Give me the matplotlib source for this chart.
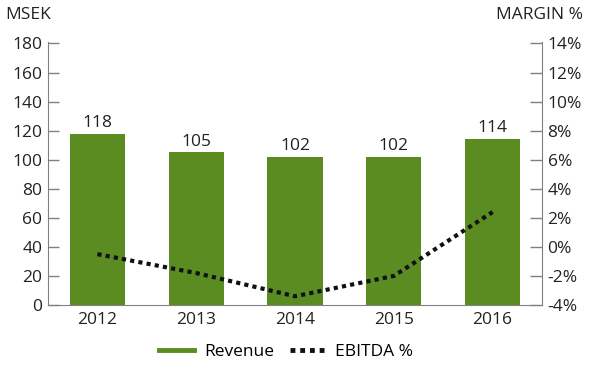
import matplotlib
matplotlib.use("Agg")
import matplotlib.pyplot as plt
from matplotlib.lines import Line2D

years = ["2012", "2013", "2014", "2015", "2016"]
revenue = [118, 105, 102, 102, 114]
ebitda_pct = [-0.5, -1.8, -3.4, -2.0, 2.4]
left_ticks = [0, 20, 40, 60, 80, 100, 120, 140, 160, 180]
right_ticks = [-4, -2, 0, 2, 4, 6, 8, 10, 12, 14]

plt.rcParams['font.family'] = ['Open Sans', 'DejaVu Sans']
green = "#5b8c22"
gray = "#808080"
fs = 12.5

fig = plt.figure(figsize=(6, 3.88), dpi=100)
ax = fig.add_axes([48/600, 1-305/388, (542-48)/600, (305-42)/388])
x = list(range(len(years)))
ax.bar(x, revenue, width=0.56, color=green, zorder=2)
for xi, v in zip(x, revenue):
    ax.text(xi, v + 2, str(v), ha='center', va='bottom', fontsize=fs, color='#222222')
ax.set_xlim(-0.5, 4.5)
ax.set_ylim(0, 181)
ax.set_yticks(left_ticks)
ax.set_yticklabels([str(t) for t in left_ticks], fontsize=fs, color='#222222')
ax.set_xticks(x)
ax.set_xticklabels(years, fontsize=fs, color='#222222')
ax.tick_params(axis='x', length=0, pad=5)
ax.tick_params(axis='y', direction='in', length=8, color=gray, width=1, pad=4)
for s in ['top', 'right']:
    ax.spines[s].set_visible(False)
ax.spines['left'].set_color(gray)
ax.spines['bottom'].set_color(gray)

ax2 = ax.twinx()
ax2.plot(x, ebitda_pct, color='#111111', linestyle=(0, (1, 1)), linewidth=3, zorder=3)
ax2.set_ylim(-4, 14.1)
ax2.set_yticks(right_ticks)
ax2.set_yticklabels([f"{t}%" for t in right_ticks], fontsize=fs, color='#222222')
ax2.tick_params(axis='y', direction='in', length=9, color=gray, width=1, pad=4)
for s in ['top', 'left', 'bottom']:
    ax2.spines[s].set_visible(False)
ax2.spines['right'].set_color(gray)

fig.text(5/600, 1-15/388, "MSEK", fontsize=fs, va='center', ha='left', color='#222222')
fig.text(583/600, 1-15/388, "MARGIN %", fontsize=fs, va='center', ha='right', color='#222222')

handles = [Line2D([0], [0], color=green, linewidth=3.5),
           Line2D([0], [0], color='#111111', linewidth=3.5, linestyle=(0, (1, 1)))]
fig.legend(handles, ["Revenue", "EBITDA %"], loc='center', bbox_to_anchor=(286/600, 1-352/388),
           ncol=2, frameon=False, fontsize=fs, handlelength=2.0, columnspacing=0.9, handletextpad=0.6)

fig.savefig("out.png", dpi=100)
